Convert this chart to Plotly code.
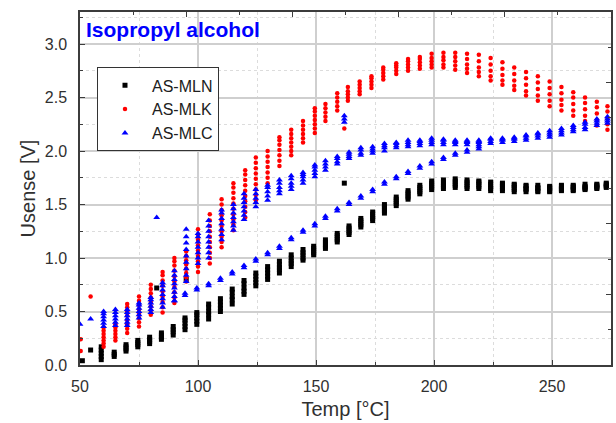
import plotly.graph_objects as go

# Sensor output vs. temperature for isopropyl alcohol.
# Each temperature step holds several readings of the sensing voltage.

# AS-MLN (black squares)
MLN_T = [51, 54.5, 59, 64.5, 69.5, 74.5, 79.5, 82.5, 84.5, 89.5, 94.5, 95,
         99.5, 104.5, 109.5, 114.5, 119.5, 124.5, 129.5, 134.5, 139.5, 144.5,
         149, 154, 159, 162, 164, 169, 174, 179, 184, 189, 194, 199, 204, 209,
         214, 219, 224, 229, 234, 239, 244, 249, 254, 259, 264, 269, 273]
MLN_U = [[0.04], [0.14], [0.05, 0.08, 0.11, 0.14, 0.17], [0.08, 0.10, 0.12],
         [0.13, 0.15, 0.17, 0.19], [0.17, 0.19, 0.21, 0.23],
         [0.20, 0.22, 0.24, 0.26], [0.72], [0.24, 0.26, 0.28, 0.30],
         [0.28, 0.31, 0.33, 0.36], [0.33, 0.36, 0.39, 0.42, 0.44], [0.80],
         [0.38, 0.41, 0.44, 0.47, 0.49], [0.43, 0.47, 0.50, 0.54, 0.57],
         [0.50, 0.53, 0.56, 0.59, 0.62], [0.57, 0.61, 0.64, 0.68, 0.71],
         [0.66, 0.69, 0.72, 0.76, 0.79], [0.74, 0.77, 0.80, 0.83, 0.86],
         [0.80, 0.83, 0.86, 0.89, 0.92], [0.86, 0.89, 0.91, 0.94, 0.97],
         [0.92, 0.95, 0.97, 1.00, 1.03], [0.98, 1.00, 1.03, 1.05, 1.08],
         [1.03, 1.05, 1.07, 1.09, 1.11], [1.09, 1.11, 1.13, 1.15, 1.17],
         [1.15, 1.17, 1.19, 1.21, 1.23], [1.70], [1.22, 1.24, 1.26, 1.28, 1.30],
         [1.29, 1.31, 1.33, 1.35, 1.37], [1.35, 1.37, 1.39, 1.41, 1.43],
         [1.42, 1.44, 1.46, 1.48, 1.50], [1.49, 1.51, 1.53, 1.55, 1.57],
         [1.55, 1.57, 1.59, 1.61, 1.63], [1.60, 1.62, 1.64, 1.66, 1.68],
         [1.64, 1.66, 1.68, 1.70, 1.72], [1.65, 1.67, 1.69, 1.71, 1.73],
         [1.66, 1.68, 1.70, 1.72, 1.74], [1.65, 1.67, 1.69, 1.71, 1.73],
         [1.65, 1.67, 1.69, 1.71, 1.72], [1.63, 1.65, 1.67, 1.69, 1.71],
         [1.63, 1.65, 1.67, 1.69, 1.70], [1.62, 1.64, 1.66, 1.68, 1.69],
         [1.62, 1.64, 1.65, 1.67, 1.68], [1.62, 1.63, 1.65, 1.66, 1.68],
         [1.62, 1.63, 1.65, 1.66, 1.67], [1.63, 1.64, 1.65, 1.67, 1.68],
         [1.63, 1.64, 1.66, 1.67, 1.68], [1.64, 1.65, 1.66, 1.67, 1.69],
         [1.65, 1.66, 1.67, 1.68, 1.69], [1.66, 1.67, 1.68, 1.69, 1.70]]

# AS-MLK (red dots)
MLK_T = [50.3, 54.5, 60, 65, 70, 75, 80, 82.5, 85, 90, 95, 100, 105, 110, 115,
         120, 124.5, 129.5, 134.5, 139.5, 144.5, 149.5, 154, 159, 162, 163.5,
         168.5, 173.5, 178.5, 184, 189, 194, 199, 204, 209, 214, 219, 224, 229,
         234, 239, 244, 249, 254, 259, 264, 269, 273.5]
MLK_U = [[0.13, 0.24], [0.64],
         [0.17, 0.20, 0.23, 0.26, 0.29, 0.32, 0.35],
         [0.23, 0.26, 0.29, 0.32, 0.35, 0.38],
         [0.30, 0.34, 0.38, 0.42, 0.46, 0.50, 0.54, 0.57],
         [0.36, 0.40, 0.44, 0.48, 0.52, 0.56, 0.60, 0.64],
         [0.47, 0.51, 0.55, 0.59, 0.63, 0.67, 0.71, 0.75],
         [2.03],
         [0.49, 0.54, 0.59, 0.64, 0.69, 0.74, 0.79, 0.84, 0.87],
         [0.58, 0.63, 0.68, 0.73, 0.78, 0.83, 0.88, 0.93, 0.97, 1.00],
         [0.78, 0.82, 0.86, 0.90, 0.94, 0.98, 1.02, 1.06],
         [0.87, 0.92, 0.97, 1.02, 1.07, 1.12, 1.17, 1.22, 1.27],
         [0.95, 1.00, 1.05, 1.10, 1.15, 1.20, 1.25, 1.30, 1.35, 1.41],
         [1.10, 1.15, 1.20, 1.25, 1.30, 1.35, 1.40, 1.45, 1.50, 1.55],
         [1.26, 1.31, 1.36, 1.41, 1.46, 1.51, 1.56, 1.61, 1.66, 1.70],
         [1.38, 1.43, 1.48, 1.53, 1.58, 1.63, 1.68, 1.73, 1.78, 1.82],
         [1.54, 1.59, 1.64, 1.69, 1.74, 1.79, 1.84, 1.89, 1.94],
         [1.70, 1.75, 1.80, 1.85, 1.90, 1.95, 2.00],
         [1.86, 1.91, 1.96, 2.01, 2.06, 2.10, 2.13],
         [1.96, 2.00, 2.04, 2.08, 2.12, 2.16, 2.20],
         [2.08, 2.12, 2.16, 2.20, 2.24, 2.28],
         [2.17, 2.21, 2.25, 2.29, 2.33, 2.37, 2.40],
         [2.28, 2.32, 2.36, 2.40, 2.44],
         [2.38, 2.42, 2.46, 2.50, 2.54],
         [2.21],
         [2.47, 2.50, 2.53, 2.56, 2.60],
         [2.53, 2.56, 2.59, 2.62, 2.65],
         [2.59, 2.62, 2.65, 2.68, 2.70],
         [2.67, 2.70, 2.73, 2.76, 2.78],
         [2.72, 2.75, 2.78, 2.80, 2.82],
         [2.75, 2.78, 2.81, 2.84, 2.86],
         [2.77, 2.80, 2.83, 2.86, 2.88],
         [2.78, 2.81, 2.84, 2.87, 2.91],
         [2.78, 2.81, 2.85, 2.88, 2.92],
         [2.76, 2.80, 2.84, 2.88, 2.92],
         [2.73, 2.77, 2.81, 2.86, 2.91],
         [2.70, 2.74, 2.78, 2.84, 2.90],
         [2.66, 2.70, 2.75, 2.81, 2.87],
         [2.62, 2.66, 2.71, 2.77, 2.83],
         [2.57, 2.61, 2.66, 2.72, 2.78],
         [2.52, 2.56, 2.62, 2.68, 2.74],
         [2.47, 2.52, 2.58, 2.64, 2.70],
         [2.42, 2.47, 2.53, 2.59, 2.65],
         [2.38, 2.43, 2.48, 2.54, 2.60],
         [2.33, 2.38, 2.44, 2.50, 2.55],
         [2.28, 2.33, 2.39, 2.45, 2.50],
         [2.24, 2.29, 2.35, 2.41, 2.46],
         [2.20, 2.25, 2.31, 2.37, 2.42]]

# AS-MLC (blue triangles), upper branch
MLC_T = [50, 54.5, 60, 65, 70, 75, 80, 82.5, 85, 90, 95, 100, 104.5, 110, 115,
         119.5, 124.5, 129.5, 134.5, 139.5, 144.5, 149.5, 154, 159, 162, 164,
         169, 174, 179, 184, 189, 194, 199, 204, 209, 214, 219, 224, 229, 234,
         239, 244, 249, 254, 259, 264, 269, 273.5]
MLC_U = [[0.38], [0.43],
         [0.36, 0.39, 0.42, 0.45, 0.48, 0.50],
         [0.37, 0.40, 0.43, 0.46, 0.49, 0.52],
         [0.37, 0.40, 0.43, 0.46, 0.49, 0.52],
         [0.44, 0.47, 0.50, 0.53, 0.56, 0.58],
         [0.49, 0.52, 0.55, 0.58, 0.61, 0.63],
         [1.38],
         [0.54, 0.58, 0.62, 0.66, 0.70, 0.74, 0.77],
         [0.60, 0.64, 0.68, 0.72, 0.76, 0.80, 0.84, 0.88],
         [0.78, 0.84, 0.90, 0.96, 1.02, 1.08, 1.14, 1.20, 1.27],
         [0.95, 1.00, 1.05, 1.10, 1.15, 1.20, 1.23],
         [1.00, 1.05, 1.10, 1.15, 1.20, 1.25, 1.30, 1.35],
         [1.17, 1.22, 1.27, 1.32, 1.37, 1.42, 1.45],
         [1.26, 1.30, 1.34, 1.38, 1.42, 1.46, 1.50],
         [1.36, 1.40, 1.44, 1.48, 1.52, 1.56, 1.60],
         [1.48, 1.52, 1.56, 1.60, 1.64],
         [1.54, 1.58, 1.62, 1.66, 1.68],
         [1.60, 1.63, 1.66, 1.70, 1.73],
         [1.64, 1.67, 1.70, 1.74, 1.77],
         [1.70, 1.73, 1.76, 1.78, 1.80],
         [1.76, 1.79, 1.82, 1.85, 1.87],
         [1.82, 1.85, 1.88, 1.91],
         [1.88, 1.90, 1.93, 1.95],
         [2.27, 2.30, 2.33],
         [1.93, 1.95, 1.97, 1.99],
         [1.96, 1.98, 2.01, 2.03],
         [1.98, 2.00, 2.02, 2.04],
         [2.00, 2.03, 2.05, 2.07],
         [2.03, 2.05, 2.07, 2.08],
         [2.04, 2.06, 2.08, 2.10],
         [2.05, 2.07, 2.09, 2.10],
         [2.06, 2.08, 2.10, 2.12],
         [2.06, 2.08, 2.10, 2.11],
         [2.06, 2.08, 2.09, 2.10],
         [2.06, 2.08, 2.09, 2.10],
         [2.06, 2.08, 2.09, 2.10],
         [2.07, 2.09, 2.11, 2.12],
         [2.08, 2.10, 2.11, 2.12],
         [2.09, 2.11, 2.12, 2.13],
         [2.10, 2.12, 2.14, 2.15],
         [2.12, 2.14, 2.16, 2.17],
         [2.13, 2.15, 2.17, 2.19],
         [2.15, 2.17, 2.19, 2.21],
         [2.18, 2.20, 2.22, 2.24],
         [2.20, 2.22, 2.25, 2.27],
         [2.24, 2.26, 2.28, 2.30],
         [2.26, 2.28, 2.30, 2.32]]

# AS-MLC, lower branch
MLC2_T = [90, 94.5, 99.5, 104.5, 109.5, 114.5, 119.5, 124.5, 129.5, 134.5,
          139.5, 144.5, 149.5, 154, 159, 164, 169, 174, 179, 184, 189, 194,
          199, 204, 209, 214, 219]
MLC2_U = [[0.60], [0.65, 0.67], [0.70, 0.72], [0.74, 0.76], [0.79, 0.81],
          [0.85, 0.87], [0.91, 0.93], [0.97, 0.99], [1.03, 1.05], [1.09, 1.11],
          [1.17, 1.19], [1.24, 1.26], [1.30, 1.32], [1.37, 1.39], [1.44, 1.46],
          [1.50, 1.52], [1.56, 1.58], [1.62, 1.64], [1.69, 1.71], [1.74, 1.76],
          [1.79, 1.81], [1.84, 1.86], [1.88, 1.90], [1.92, 1.94], [1.96, 1.98],
          [1.99, 2.01], [2.02, 2.04]]


def expand(temps, volts):
    xs, ys = [], []
    for t, us in zip(temps, volts):
        for u in us:
            xs.append(t)
            ys.append(u)
    return xs, ys


FONT = "Liberation Sans, Arial, sans-serif"

fig = go.Figure()

x, y = expand(MLN_T, MLN_U)
fig.add_trace(go.Scatter(x=x, y=y, mode="markers", name="AS-MLN",
                         marker=dict(symbol="square", size=5, color="#000000",
                                     line=dict(width=0))))
x, y = expand(MLK_T, MLK_U)
fig.add_trace(go.Scatter(x=x, y=y, mode="markers", name="AS-MLK",
                         marker=dict(symbol="circle", size=4.5, color="#ff0000",
                                     line=dict(width=0))))
x, y = expand(MLC_T + MLC2_T, MLC_U + MLC2_U)
fig.add_trace(go.Scatter(x=x, y=y, mode="markers", name="AS-MLC",
                         marker=dict(symbol="triangle-up", size=6,
                                     color="#0000ff", line=dict(width=0))))

# empty trace so the top/right tick axes get drawn
fig.add_trace(go.Scatter(x=[], y=[], xaxis="x2", yaxis="y2",
                         showlegend=False, hoverinfo="skip"))

# darker reference lines at 100 and 200 °C
for xv in (100, 200):
    fig.add_shape(type="line", xref="x", yref="paper", x0=xv, x1=xv,
                  y0=0, y1=1, layer="below",
                  line=dict(color="#8c8c8c", width=1))

fig.add_annotation(text="<b>Isopropyl alcohol</b>", xref="paper", yref="paper",
                   x=0.008, y=0.95, xanchor="left", yanchor="middle",
                   showarrow=False,
                   font=dict(family=FONT, size=21, color="#0000ff"))

axis_common = dict(showline=True, linecolor="#3c3c3c", linewidth=1.5,
                   mirror=True, zeroline=False, ticks="inside",
                   tickcolor="#3c3c3c", ticklen=5,
                   gridcolor="#cfcfcf", gridwidth=1.5,
                   tickfont=dict(family=FONT, size=16, color="#303030"))

fig.update_layout(
    width=616, height=423,
    margin=dict(l=80, r=3, t=12, b=58),
    paper_bgcolor="white", plot_bgcolor="white",
    font=dict(family=FONT, color="#303030"),
    xaxis=dict(range=[50, 275], tickmode="linear", tick0=50, dtick=50,
               ticklabelstandoff=6,
               title=dict(text="Temp [°C]", standoff=8,
                          font=dict(family=FONT, size=20, color="#303030")),
               minor=dict(dtick=25, showgrid=True, gridcolor="#dcdcdc",
                          griddash="dot", gridwidth=1, ticks="inside",
                          ticklen=3, tickcolor="#3c3c3c"),
               **axis_common),
    yaxis=dict(range=[0, 3.3], tickmode="linear", tick0=0, dtick=0.5,
               tickformat=".1f", ticklabelstandoff=8,
               title=dict(text="Usense [V]", standoff=4,
                          font=dict(family=FONT, size=20, color="#303030")),
               minor=dict(dtick=0.25, showgrid=True, gridcolor="#dcdcdc",
                          griddash="dot", gridwidth=1, ticks="inside",
                          ticklen=3, tickcolor="#3c3c3c"),
               **axis_common),
    xaxis2=dict(overlaying="x", side="top", range=[0, 10], tickmode="linear",
                tick0=0, dtick=2, ticks="inside", ticklen=5,
                tickcolor="#3c3c3c", showticklabels=False, showgrid=False,
                zeroline=False, showline=False,
                minor=dict(dtick=1, ticks="inside", ticklen=3,
                           tickcolor="#3c3c3c", showgrid=False)),
    yaxis2=dict(overlaying="y", side="right", range=[0, 10], tickmode="linear",
                tick0=0, dtick=2, ticks="inside", ticklen=5,
                tickcolor="#3c3c3c", showticklabels=False, showgrid=False,
                zeroline=False, showline=False,
                minor=dict(dtick=1, ticks="inside", ticklen=3,
                           tickcolor="#3c3c3c", showgrid=False)),
    legend=dict(x=0.032, y=0.843, xanchor="left", yanchor="top",
                bgcolor="white", bordercolor="#333333", borderwidth=1,
                font=dict(family=FONT, size=16, color="#202020"),
                tracegroupgap=0, itemwidth=44),
    showlegend=True,
)

fig.write_html("out.html")
